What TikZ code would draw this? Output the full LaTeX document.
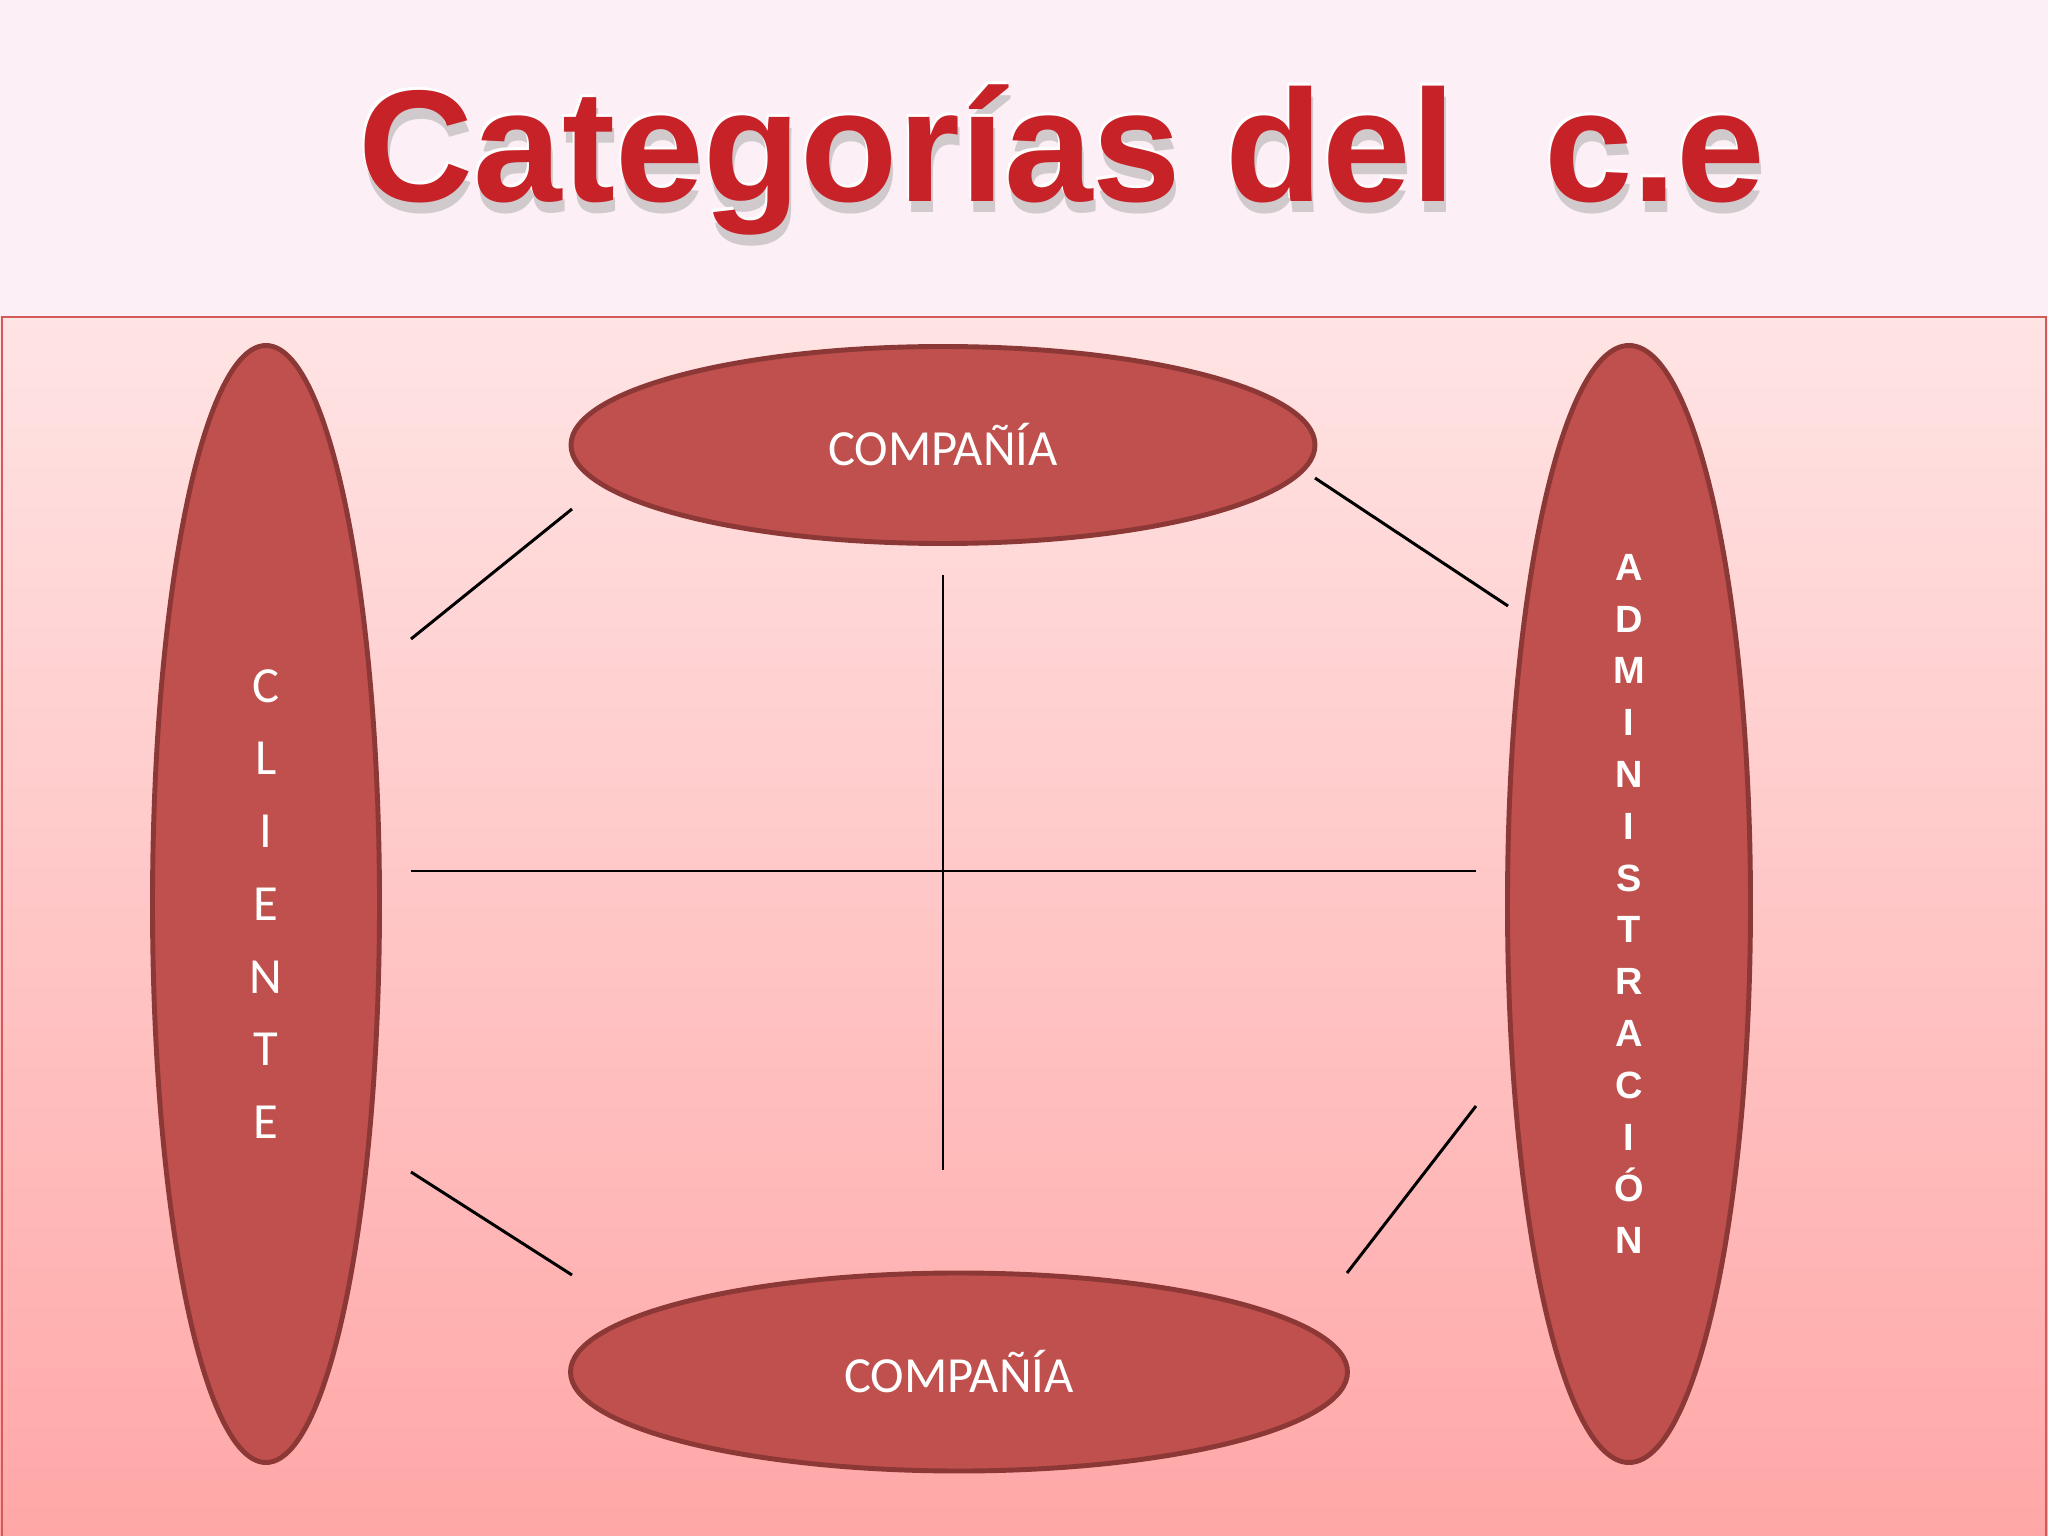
\documentclass[tikz,border=0pt]{standalone}
\usepackage{fontspec}
\setmainfont{Carlito}
\newfontfamily\arial{Liberation Sans}
\usetikzlibrary{shapes.geometric}
\definecolor{band}{HTML}{FCEFF5}
\definecolor{pinktop}{HTML}{FFE4E4}
\definecolor{pinkbot}{HTML}{FFA7A7}
\definecolor{frame}{HTML}{D45A5A}
\definecolor{oval}{HTML}{C0504D}
\definecolor{ovalline}{HTML}{8C3836}
\definecolor{titlered}{HTML}{C62228}
\begin{document}
\begin{tikzpicture}[font=\fontsize{14.4}{17}\selectfont,
  oval/.style={ellipse,draw=ovalline,line width=1.4pt,fill=oval,text=white,inner sep=0pt,align=center},
  link/.style={line width=0.85pt},
  titletext/.style={anchor=base,font=\arial\bfseries\fontsize{45.3}{50}\selectfont}]
\useasboundingbox (0,0) rectangle (20.48,-15.36);

\fill[band] (0,0) rectangle (20.48,-3.17);
\shade[top color=pinktop,bottom color=pinkbot] (0,-3.17) rectangle (20.48,-15.36);
\draw[frame,line width=0.7pt] (0.02,-15.36) -- (0.02,-3.17) -- (20.46,-3.17) -- (20.46,-15.36);

\node[titletext,text=black!35,opacity=0.5] (titleshadow) at (10.64,-2.13) {Categorías del\ \ c.e};
\node[titletext,text=white] (titleedge) at (10.60,-1.99) {Categorías del\ \ c.e};
\node[titletext,text=titlered] (title) at (10.62,-2.02) {Categorías del\ \ c.e};

\begin{scope}
\node[oval,minimum width=2.27cm,minimum height=11.17cm,font=\fontsize{14.4}{20.7}\selectfont] (cliente) at (2.66,-9.04) {C\\L\\I\\E\\N\\T\\E};
\node[oval,minimum width=2.43cm,minimum height=11.17cm,font=\arial\bfseries\fontsize{10.8}{14.74}\selectfont] (admin) at (16.29,-9.04) {A\\D\\M\\I\\N\\I\\S\\T\\R\\A\\C\\I\\Ó\\N};
\node[oval,minimum width=7.44cm,minimum height=1.97cm] (compania) at (9.43,-4.45) {COMPAÑÍA};
\node[oval,minimum width=7.77cm,minimum height=1.98cm] (companiab) at (9.59,-13.72) {COMPAÑÍA};

\coordinate (C1) at (4.11,-6.39);
\coordinate (P1) at (5.72,-5.09);
\coordinate (P2) at (13.15,-4.78);
\coordinate (A1) at (15.08,-6.06);
\coordinate (V1) at (9.43,-5.75);
\coordinate (V2) at (9.43,-11.70);
\coordinate (H1) at (4.11,-8.71);
\coordinate (H2) at (14.76,-8.71);
\coordinate (C2) at (4.11,-11.72);
\coordinate (Q1) at (5.72,-12.75);
\coordinate (Q2) at (13.47,-12.73);
\coordinate (A2) at (14.76,-11.06);

\draw[link] (C1) -- (P1);
\draw[link] (P2) -- (A1);
\draw[link] (V1) -- (V2);
\draw[link] (H1) -- (H2);
\draw[link] (C2) -- (Q1);
\draw[link] (Q2) -- (A2);
\end{scope}

\end{tikzpicture}
\end{document}
